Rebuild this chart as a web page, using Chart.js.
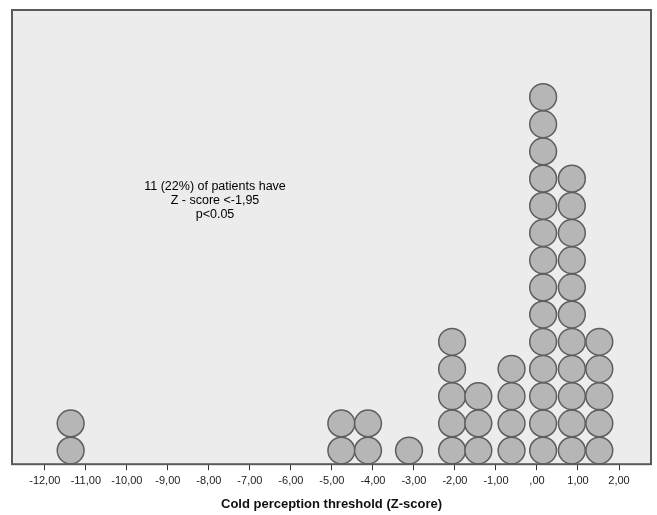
<!DOCTYPE html>
<html>
<head>
<meta charset="utf-8">
<script src="https://cdn.jsdelivr.net/npm/chart.js@4/dist/chart.umd.min.js"></script>
<style>
  html, body { margin: 0; padding: 0; background: #fff; }
  #wrap { width: 657px; height: 515px; }
</style>
</head>
<body>
<div id="wrap"><canvas id="chart"></canvas></div>
<script>
// -------------------- DATA -------------------
// bin centre (Z-score) and number of patients stacked at it
let BinCenters = [-11.37, -4.77, -4.12, -3.12, -2.07, -1.43, -0.62, 0.15, 0.85, 1.52];
let BinCounts  = [2, 2, 2, 1, 5, 3, 4, 14, 11, 5];
let XTicks = [-12, -11, -10, -9, -8, -7, -6, -5, -4, -3, -2, -1, 0, 1, 2];
let NoteLines = ['11 (22%) of patients have', 'Z - score <-1,95', 'p<0.05'];
let NotePos = { x: -7.85, y: 9.68 };
let AxisTitle = 'Cold perception threshold (Z-score)';

// -------------------- BUILD POINTS -------------------
let points = [];
for (let i = 0; i < BinCenters.length; ++i) {
  for (let k = 0; k < BinCounts[i]; ++k) {
    points.push({ x: BinCenters[i], y: k + 0.5 });
  }
}

function FormatTick(v) {
  let s = Math.abs(v).toFixed(2).replace('.', ',');
  if (s.startsWith('0')) s = s.slice(1);
  return (v < 0 ? '-' : '') + s;
}

// plot background, frame and note text
let FramePlugin = {
  id: 'frame',
  beforeDatasetsDraw(chart) {
    let a = chart.chartArea, ctx = chart.ctx;
    ctx.save();
    ctx.fillStyle = '#ececec';
    ctx.fillRect(a.left, a.top, a.right - a.left, a.bottom - a.top);
    ctx.fillStyle = '#000';
    ctx.font = '12.5px "Liberation Sans", Arial, sans-serif';
    ctx.textAlign = 'center';
    ctx.textBaseline = 'middle';
    let cx = chart.scales.x.getPixelForValue(NotePos.x);
    let cy = chart.scales.y.getPixelForValue(NotePos.y);
    NoteLines.forEach((t, i) => ctx.fillText(t, cx, cy + (i - 1) * 14));
    ctx.restore();
  },
  afterDatasetsDraw(chart) {
    let a = chart.chartArea, ctx = chart.ctx;
    ctx.save();
    ctx.strokeStyle = '#5a5a5a';
    ctx.lineWidth = 2;
    ctx.strokeRect(a.left, a.top, a.right - a.left, a.bottom - a.top);
    ctx.restore();
  }
};

new Chart(document.getElementById('chart'), {
  type: 'scatter',
  data: {
    datasets: [{
      data: points,
      pointRadius: 13.4,
      pointHoverRadius: 13.4,
      backgroundColor: '#b6b6b6',
      borderColor: '#5e5e5e',
      borderWidth: 1.5
    }]
  },
  plugins: [FramePlugin],
  options: {
    responsive: true,
    maintainAspectRatio: false,
    animation: false,
    events: [],
    layout: { autoPadding: false, padding: { left: 12, top: 10, right: 6, bottom: 3 } },
    plugins: {
      legend: { display: false },
      tooltip: { enabled: false }
    },
    scales: {
      x: {
        type: 'linear',
        min: -12.8,
        max: 2.78,
        afterBuildTicks: axis => { axis.ticks = XTicks.map(v => ({ value: v })); },
        border: { display: false },
        grid: {
          drawOnChartArea: false,
          drawTicks: true,
          tickLength: 6,
          color: '#333',
          lineWidth: 1
        },
        ticks: {
          autoSkip: false,
          maxRotation: 0,
          padding: 4,
          color: '#222',
          font: { family: '"Liberation Sans", Arial, sans-serif', size: 11 },
          callback: v => FormatTick(v)
        },
        title: {
          display: true,
          text: AxisTitle,
          color: '#111',
          padding: { top: 5, bottom: 0 },
          font: { family: '"Liberation Sans", Arial, sans-serif', size: 13, weight: 'bold' }
        }
      },
      y: {
        display: false,
        min: 0,
        max: 16.7
      }
    }
  }
});
</script>
</body>
</html>
